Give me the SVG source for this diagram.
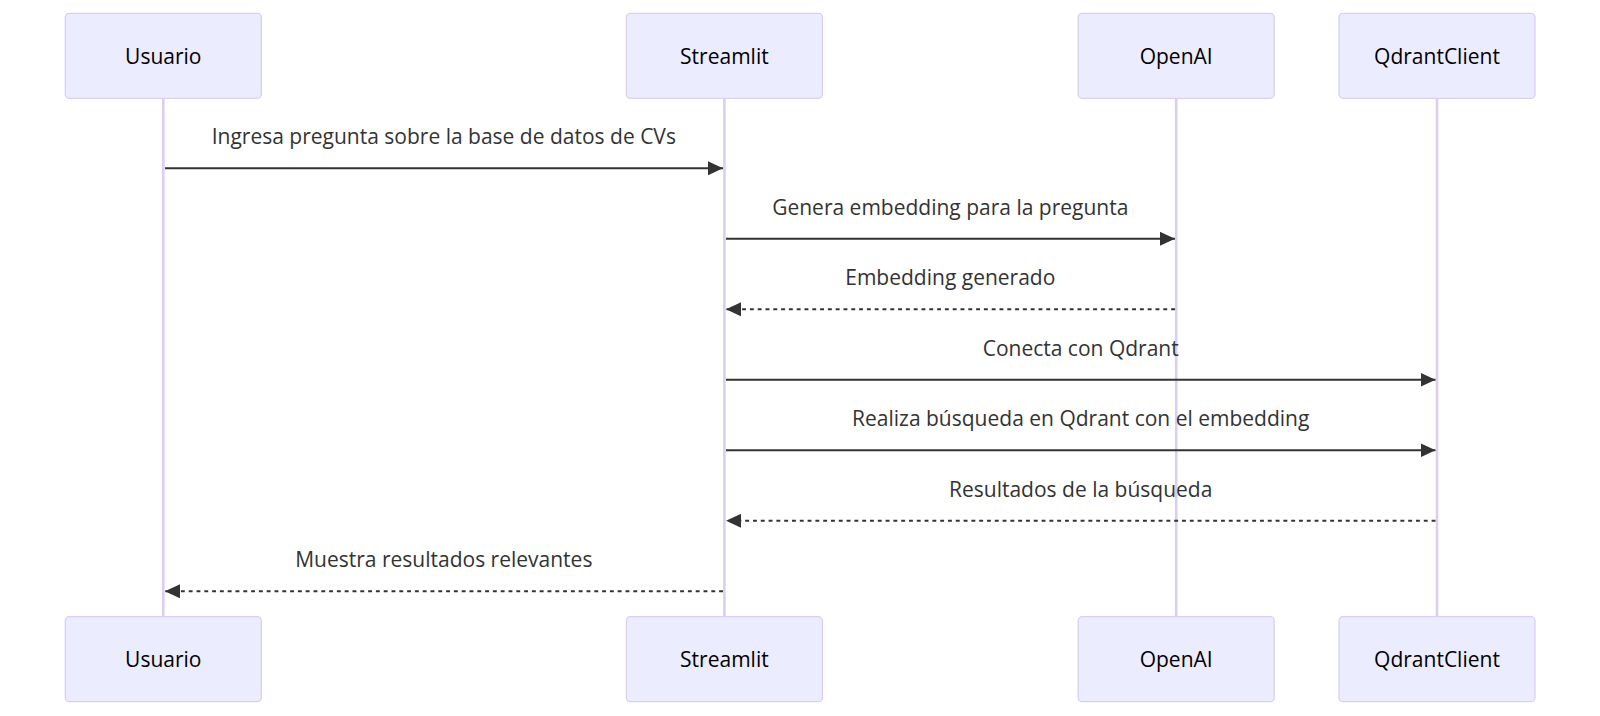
<svg xmlns="http://www.w3.org/2000/svg" width="1600" height="716" viewBox="0 0 1600 716">
<style>
.actor{fill:#ECECFF;stroke:hsl(259.6,59.8%,87.9%);stroke-width:1.3}
.atext{font-family:"Open Sans","Noto Sans",sans-serif;font-size:21px;fill:#000;text-anchor:middle}
.life{stroke:hsl(259.6,59.8%,87.9%);stroke-width:2.6}
.msg{stroke:#333;stroke-width:2;fill:none}
.dash{stroke-dasharray:3.9 3.9}
.mtext{font-family:"Open Sans","Noto Sans",sans-serif;font-size:21px;fill:#333;text-anchor:middle}
</style>
<defs>
<marker id="ah" markerUnits="userSpaceOnUse" markerWidth="16" markerHeight="14" refX="15" refY="7" orient="auto">
<path d="M0,0 L15,7 L0,14 z" fill="#333"/>
</marker>
</defs>
<rect width="1600" height="716" fill="#fff"/>
<g id="lifelines">
<line class="life" x1="163.3" y1="98" x2="163.3" y2="617"/>
<line class="life" x1="724.4" y1="98" x2="724.4" y2="617"/>
<line class="life" x1="1176.2" y1="98" x2="1176.2" y2="617"/>
<line class="life" x1="1437" y1="98" x2="1437" y2="617"/>
</g>
<g id="Usuario">
<rect class="actor" x="65.3" y="13.3" width="196" height="85" rx="4"/>
<text class="atext" x="163.3" y="63.5">Usuario</text>
<rect class="actor" x="65.3" y="616.7" width="196" height="85" rx="4"/>
<text class="atext" x="163.3" y="667">Usuario</text>
</g>
<g id="Streamlit">
<rect class="actor" x="626.4" y="13.3" width="196" height="85" rx="4"/>
<text class="atext" x="724.4" y="63.5">Streamlit</text>
<rect class="actor" x="626.4" y="616.7" width="196" height="85" rx="4"/>
<text class="atext" x="724.4" y="667">Streamlit</text>
</g>
<g id="OpenAI">
<rect class="actor" x="1078.2" y="13.3" width="196" height="85" rx="4"/>
<text class="atext" x="1176.2" y="63.5">OpenAI</text>
<rect class="actor" x="1078.2" y="616.7" width="196" height="85" rx="4"/>
<text class="atext" x="1176.2" y="667">OpenAI</text>
</g>
<g id="QdrantClient">
<rect class="actor" x="1339" y="13.3" width="196" height="85" rx="4"/>
<text class="atext" x="1437" y="63.5">QdrantClient</text>
<rect class="actor" x="1339" y="616.7" width="196" height="85" rx="4"/>
<text class="atext" x="1437" y="667">QdrantClient</text>
</g>
<g id="connectors">
<line class="msg" x1="165" y1="168.3" x2="723" y2="168.3" marker-end="url(#ah)"/>
<text class="mtext" x="443.8" y="144.3">Ingresa pregunta sobre la base de datos de CVs</text>
<line class="msg" x1="726" y1="238.8" x2="1175" y2="238.8" marker-end="url(#ah)"/>
<text class="mtext" x="950.3" y="214.8">Genera embedding para la pregunta</text>
<line class="msg dash" x1="1175" y1="309.3" x2="726" y2="309.3" marker-end="url(#ah)"/>
<text class="mtext" x="950.3" y="285.3">Embedding generado</text>
<line class="msg" x1="726" y1="379.8" x2="1435.5" y2="379.8" marker-end="url(#ah)"/>
<text class="mtext" x="1080.7" y="355.8">Conecta con Qdrant</text>
<line class="msg" x1="726" y1="450.3" x2="1435.5" y2="450.3" marker-end="url(#ah)"/>
<text class="mtext" x="1080.7" y="426.3">Realiza búsqueda en Qdrant con el embedding</text>
<line class="msg dash" x1="1435.5" y1="520.8" x2="726" y2="520.8" marker-end="url(#ah)"/>
<text class="mtext" x="1080.7" y="496.8">Resultados de la búsqueda</text>
<line class="msg dash" x1="723" y1="591.3" x2="165" y2="591.3" marker-end="url(#ah)"/>
<text class="mtext" x="443.8" y="567.3">Muestra resultados relevantes</text>
</g>
</svg>
